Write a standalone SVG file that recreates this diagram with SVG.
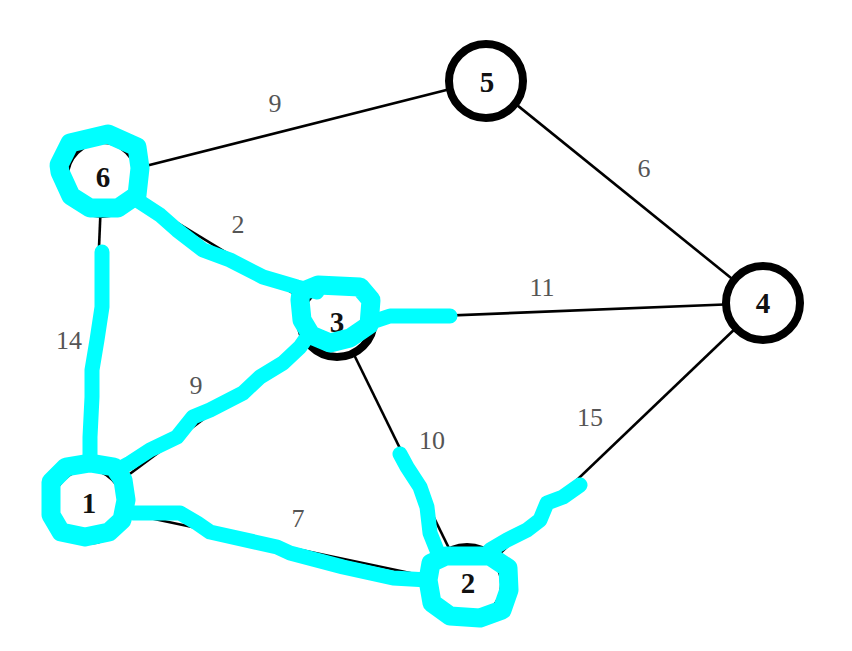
<svg xmlns="http://www.w3.org/2000/svg" width="852" height="651" viewBox="0 0 852 651">
<style>
.edge{stroke:#000;stroke-width:2.6;fill:none}
.node circle{fill:#fff;stroke:#000;stroke-width:8}
.nl{font-family:"Liberation Serif",serif;font-weight:bold;font-size:29px;fill:#111;text-anchor:middle}
.el{font-family:"Liberation Serif",serif;font-size:26px;fill:#555;text-anchor:middle}
.hl{stroke:#00FFFF;stroke-width:15;fill:none;stroke-linejoin:round;stroke-linecap:round}
.ring{stroke-width:19}
</style>
<rect width="852" height="651" fill="#fff"/>
<g id="connectors">
<line class="edge" x1="102" y1="177" x2="486" y2="80"/>
<line class="edge" x1="486" y1="80" x2="762" y2="303"/>
<line class="edge" x1="102" y1="177" x2="88" y2="505"/>
<line class="edge" x1="102" y1="177" x2="337" y2="320"/>
<line class="edge" x1="337" y1="320" x2="762" y2="303"/>
<line class="edge" x1="337" y1="320" x2="88" y2="505"/>
<line class="edge" x1="337" y1="320" x2="467" y2="585"/>
<line class="edge" x1="88" y1="505" x2="467" y2="585"/>
<line class="edge" x1="467" y1="585" x2="762" y2="303"/>
<text class="el" x="275" y="112">9</text>
<text class="el" x="644" y="177">6</text>
<text class="el" x="238" y="233">2</text>
<text class="el" x="542" y="296">11</text>
<text class="el" x="69" y="349">14</text>
<text class="el" x="196" y="394">9</text>
<text class="el" x="432" y="449">10</text>
<text class="el" x="590" y="426">15</text>
<text class="el" x="298" y="527">7</text>
</g>
<g id="node-5" class="node"><circle cx="486" cy="81" r="37"/><text class="nl" x="487" y="92">5</text></g>
<g id="node-4" class="node"><circle cx="763" cy="303" r="37"/><text class="nl" x="763" y="313">4</text></g>
<g id="node-6" class="node"><circle cx="102" cy="177" r="37"/><text class="nl" x="103" y="187">6</text></g>
<g id="node-3" class="node"><circle cx="337" cy="320" r="37"/><text class="nl" x="337" y="332">3</text></g>
<g id="node-1" class="node"><circle cx="88" cy="504" r="37"/><text class="nl" x="89" y="513">1</text></g>
<g id="node-2" class="node"><circle cx="467" cy="584" r="37"/><text class="nl" x="468" y="593">2</text></g>
<g id="highlight">
<path class="hl ring" d="M59,165 L70,143 L108,134 L137,147 L140,168 L137,195 L118,208 L90,208 L71,196 L60,172 Z"/>
<path class="hl" d="M137,200 L160,215 L177,230 L203,250 L230,260 L263,277 L297,287 L317,292"/>
<path class="hl ring" d="M301,292 L318,285 L360,287 L371,300 L369,325 L350,338 L330,343 L311,335 L302,320 L300,300 Z"/>
<path class="hl" d="M372,322 L390,316 L450,316"/>
<path class="hl" d="M117,470 L130,463 L150,450 L177,437 L193,417 L210,410 L243,393 L260,377 L283,363 L300,347 L307,337"/>
<path class="hl" d="M102,252 L102,307 L97,340 L92,370 L92,397 L90,437 L90,462"/>
<path class="hl ring" d="M51,482 L66,467 L90,463 L114,467 L123,480 L126,500 L122,520 L109,532 L85,537 L61,532 L51,515 Z"/>
<path class="hl" d="M133,513 L180,513 L197,523 L210,532 L277,547 L290,553 L343,567 L393,578 L428,580"/>
<path class="hl ring" d="M431,563 L446,556 L490,556 L508,568 L509,590 L502,610 L480,618 L450,616 L432,603 L428,580 Z"/>
<path class="hl" d="M400,454 L407,467 L420,487 L427,507 L430,533 L438,553"/>
<path class="hl" d="M580,485 L563,497 L547,503 L540,520 L527,530 L507,540 L490,550"/>
</g>
</svg>
